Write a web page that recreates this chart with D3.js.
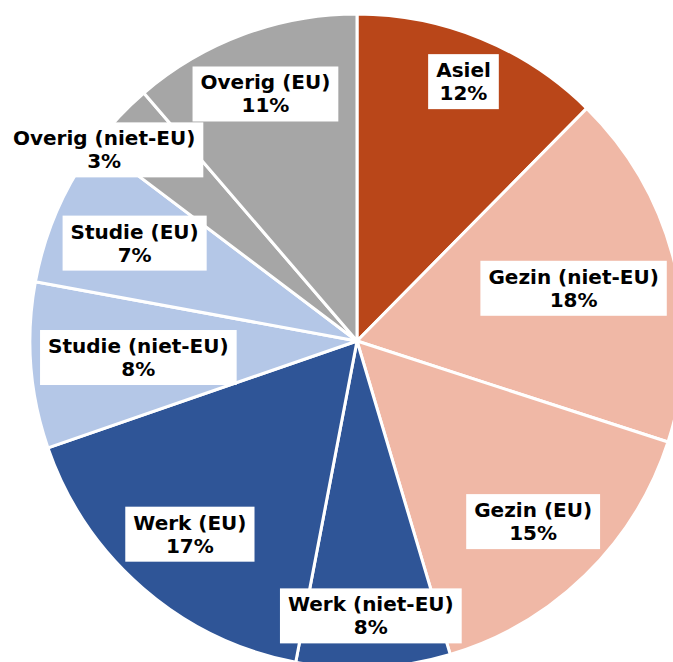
<!DOCTYPE html>
<html>
<head>
<meta charset="utf-8">
<title>Verblijfsdoelen</title>
<script src="https://d3js.org/d3.v7.min.js"></script>
<style>
body { margin: 0; background: #fff; }
svg { display: block; font-family: "DejaVu Sans", Verdana, sans-serif; }
.label-box { fill: #fff; }
.label-text { font-size: 20px; font-weight: bold; fill: #000; }
</style>
</head>
<body>
<div id="chart"></div>
<script>

// slices, clockwise from 12 o'clock
var categories = ["Asiel", "Gezin (niet-EU)", "Gezin (EU)", "Werk (niet-EU)", "Werk (EU)",
                  "Studie (niet-EU)", "Studie (EU)", "Overig (niet-EU)", "Overig (EU)"];
var shares = [12.4, 17.6, 15.4, 7.6, 16.7, 8.2, 7.4, 3.4, 11.3];
var colors = ["#B94619", "#F0B8A6", "#F0B8A6", "#2F5597", "#2F5597",
              "#B4C7E7", "#B4C7E7", "#A6A6A6", "#A6A6A6"];

var width = 673;
var height = 662;
var cx = 357, cy = 341;
var radius = 327;
var labelPad = 7;      // gap between label box corner and the rim
var lineGap = 23;

var data = categories.map(function(c, i) {
  return { name: c, value: shares[i], color: colors[i] };
});
var total = d3.sum(shares);

var svg = d3.select("#chart").append("svg")
  .attr("width", width)
  .attr("height", height);

var g = svg.append("g")
  .attr("transform", `translate(${cx}, ${cy})`);

var pie = d3.pie()
  .sort(null)
  .value(d => d.value);

var arc = d3.arc()
  .innerRadius(0)
  .outerRadius(radius);

var arcs = pie(data);

g.selectAll(".slice")
  .data(arcs).enter()
  .append("path")
  .attr("class", "slice")
  .attr("d", arc)
  .attr("fill", d => d.data.color)
  .attr("stroke", "#fff")
  .attr("stroke-width", 3)
  .attr("stroke-linejoin", "round");

/* labels: white box, name + percentage */
var fmt = d3.format(".0%");
var isSmall = d => d.data.value / total < 0.05;

// small-slice labels go last so they sit on top
var labelArcs = arcs.filter(d => !isSmall(d)).concat(arcs.filter(isSmall));

var labels = g.selectAll(".label")
  .data(labelArcs).enter()
  .append("g")
  .attr("class", "label");

labels.append("rect").attr("class", "label-box");

var txt = labels.append("text")
  .attr("class", "label-text")
  .attr("text-anchor", "middle");

txt.append("tspan")
  .attr("x", 0)
  .attr("y", -lineGap / 2 + 7)
  .text(d => d.data.name);

txt.append("tspan")
  .attr("x", 0)
  .attr("y", lineGap / 2 + 7)
  .text(d => fmt(d.data.value / total));

labels.each(function(d) {
  var sel = d3.select(this);
  var bb = sel.select("text").node().getBBox();
  var w = bb.width + 16;
  var h = 55;
  sel.select("rect")
    .attr("x", -w / 2)
    .attr("y", -h / 2)
    .attr("width", w)
    .attr("height", h);

  var x, y;
  if (isSmall(d)) {
    // small slice: box sits over the rim, at the slice's leading edge
    var r = radius - 10;
    x = Math.sin(d.startAngle) * r;
    y = -Math.cos(d.startAngle) * r;
    x = Math.max(x, -cx + 5 + w / 2);
  } else {
    // inside end: farthest corner of the box just inside the rim
    var a = (d.startAngle + d.endAngle) / 2;
    var dx = Math.sin(a), dy = -Math.cos(a);
    var ox = (dx >= 0 ? 1 : -1) * w / 2;
    var oy = (dy >= 0 ? 1 : -1) * h / 2;
    var b = dx * ox + dy * oy;
    var c = ox * ox + oy * oy - Math.pow(radius - labelPad, 2);
    var t = -b + Math.sqrt(b * b - c);
    x = dx * t; y = dy * t;
  }
  sel.attr("transform", `translate(${x}, ${y})`);
});

</script>
</body>
</html>
